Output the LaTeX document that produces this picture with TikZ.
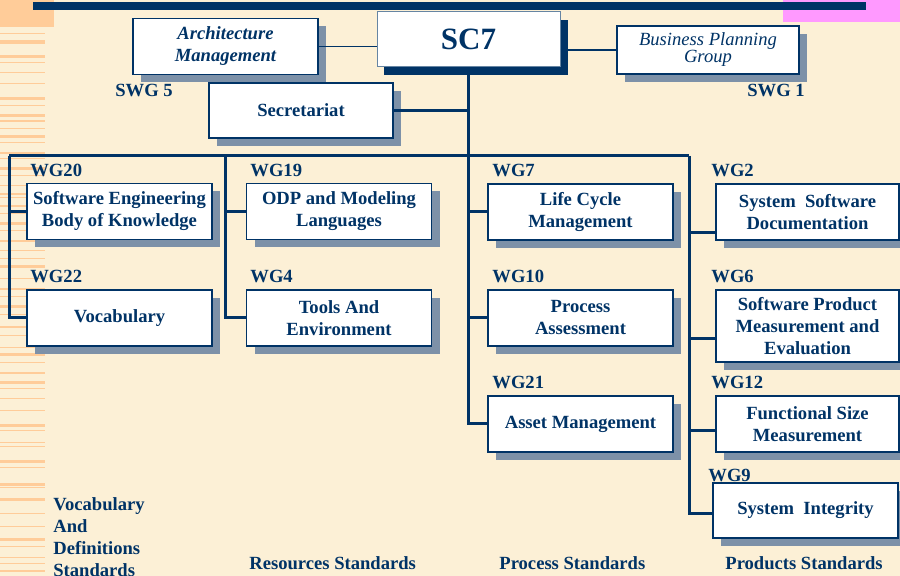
\documentclass[tikz,border=0pt]{standalone}
\usepackage{fontspec}
\setmainfont{Liberation Serif}
\usetikzlibrary{shadows}

\definecolor{navy}{HTML}{003366}
\definecolor{cream}{HTML}{FCF0D6}
\definecolor{stripe}{HTML}{FFCC99}
\definecolor{pinkblock}{HTML}{FF99FF}
\definecolor{dotblue}{HTML}{7D91A8}

\newcommand{\boxfont}{\fontsize{9.3}{11}\selectfont\bfseries}

\tikzset{
    wgbox/.style={draw=navy, line width=0.6pt, fill=white, align=center,
        font=\boxfont, text=navy, minimum width=92.5pt, minimum height=28pt,
        inner sep=1pt,
        drop shadow={shadow xshift=4pt, shadow yshift=-4pt, fill=dotblue, opacity=1}},
    wglabel/.style={anchor=base west, inner sep=0pt, font=\boxfont, text=navy},
    bus/.style={draw=navy, line width=1.5pt},
    link/.style={draw=navy, line width=0.75pt}
}

\begin{document}
\begin{tikzpicture}[x=0.5pt, y=-0.5pt]
    \useasboundingbox (0,0) rectangle (900,576);
    \clip (0,0) rectangle (900,576);

    % Background and slide decoration
    \fill[cream] (0,0) rectangle (900,576);
    \foreach \y/\t in {33/1, 40/3, 43/1, 55/3, 62/1, 72/1, 83/1, 97/3, 105/1, 114/3,
        120/2, 128/1, 135/3, 142/1, 152/2, 158/1, 167/3, 175/1, 185/1, 193/2,
        197/1, 205/2, 213/1, 222/3, 230/1, 240/2, 250/1, 258/1, 265/3, 278/1,
        288/2, 296/1, 305/3, 314/1, 326/2, 335/1, 347/1, 353/3, 362/1, 372/2,
        381/3, 388/1, 398/1, 410/1, 424/3, 430/1, 442/1, 446/1, 460/3, 467/1,
        483/3, 487/1, 498/3, 513/1, 526/1, 538/3, 546/1, 557/1, 563/1, 570/2}
        \fill[stripe] (0,\y) rectangle (45,{\y+\t});
    \fill[stripe] (0,0) rectangle (54,27);
    \fill[pinkblock] (783,0) rectangle (900,22);
    \fill[navy] (33,2) rectangle (866,10);

    % Top level
    \fill[navy] (384,20) rectangle (568,75);
    \node[draw=navy!60, line width=0.5pt, fill=white, minimum width=91.5pt, minimum height=27.5pt,
        font=\fontsize{15.5}{18}\selectfont\bfseries, text=navy] (sc7) at (468.5,39.5) {SC7};
    \node[wgbox, font=\boxfont\itshape] (arch) at (225.5,46.5) {Architecture\\Management};
    \node[wgbox, font=\fontsize{9.3}{8.5}\selectfont\itshape, minimum width=91pt, minimum height=24pt]
        (bpg) at (708,50) {Business Planning\\Group};
    \node[wgbox, minimum width=92pt, minimum height=27.5pt] (sec) at (301,110.5) {Secretariat};
    \node[wglabel] (swg5) at (115,97) {SWG 5};
    \node[wglabel] (swg1) at (747,97) {SWG 1};

    % Working group boxes
    \node[wgbox] (wg20) at (119.5,211.5) {Software Engineering\\Body of Knowledge};
    \node[wgbox] (wg22) at (119.5,318) {Vocabulary};
    \node[wgbox] (wg19) at (339,211.5) {ODP and Modeling\\Languages};
    \node[wgbox] (wg4) at (339,318) {Tools And\\Environment};
    \node[wgbox] (wg7) at (580.5,212) {Life Cycle\\Management};
    \node[wgbox] (wg10) at (580.5,318) {Process\\Assessment};
    \node[wgbox] (wg21) at (580.5,424) {Asset Management};
    \node[wgbox, minimum width=91.5pt] (wg2) at (807.5,212) {System\ \ Software\\Documentation};
    \node[wgbox, minimum width=91.5pt, minimum height=36pt] (wg6) at (807.5,326)
        {Software Product\\Measurement and\\Evaluation};
    \node[wgbox, minimum width=91.5pt] (wg12) at (807.5,424) {Functional Size\\Measurement};
    \node[wgbox, minimum height=27.5pt] (wg9) at (805.5,510.5) {System\ \ Integrity};

    % WG numbers
    \node[wglabel] at (30,177) {WG20};
    \node[wglabel] at (30,283) {WG22};
    \node[wglabel] at (250,177) {WG19};
    \node[wglabel] at (250,283) {WG4};
    \node[wglabel] at (492,177) {WG7};
    \node[wglabel] at (492,283) {WG10};
    \node[wglabel] at (492,389) {WG21};
    \node[wglabel] at (711,177) {WG2};
    \node[wglabel] at (711,283) {WG6};
    \node[wglabel] at (711,389) {WG12};
    \node[wglabel] at (708,482) {WG9};

    % Connectors
    \draw[link] (arch.east) -- (arch.east -| sc7.west);
    \draw[link] (bpg.west -| sc7.east) -- (bpg.west);
    \draw[bus] (sc7.south) -- (sc7.south |- wg21.west) -- (wg21.west);
    \draw[bus] (sec.east) -- (sec.east -| sc7.south);
    \coordinate (busl) at (9,156);
    \coordinate (busm) at (225,156);
    \coordinate (busr) at (689,156);
    \draw[bus] (busl) -- (busr);
    \draw[bus] (busl) |- (wg22.west);
    \draw[bus] (busl |- wg20.west) -- (wg20.west);
    \draw[bus] (busm) |- (wg4.west);
    \draw[bus] (busm |- wg19.west) -- (wg19.west);
    \draw[bus] (sc7.south |- wg7.west) -- (wg7.west);
    \draw[bus] (sc7.south |- wg10.west) -- (wg10.west);
    \draw[bus] (busr) |- ([yshift=-1.75pt]wg9.west);
    \draw[bus] (busr |- 0,233) -- ([yshift=-10.5pt]wg2.west);
    \draw[bus] (busr |- 0,339) -- ([yshift=-6.5pt]wg6.west);
    \draw[bus] (busr |- 0,431) -- ([yshift=-3.5pt]wg12.west);

    % Column titles
    \node[anchor=north west, inner sep=0pt, align=left, font=\boxfont, text=navy] (voc)
        at (53,497) {Vocabulary\\And\\Definitions\\Standards};
    \node[wglabel] (res) at (249,570) {Resources Standards};
    \node[wglabel] (proc) at (499,570) {Process Standards};
    \node[wglabel] (prod) at (725,570) {Products Standards};
\end{tikzpicture}
\end{document}
